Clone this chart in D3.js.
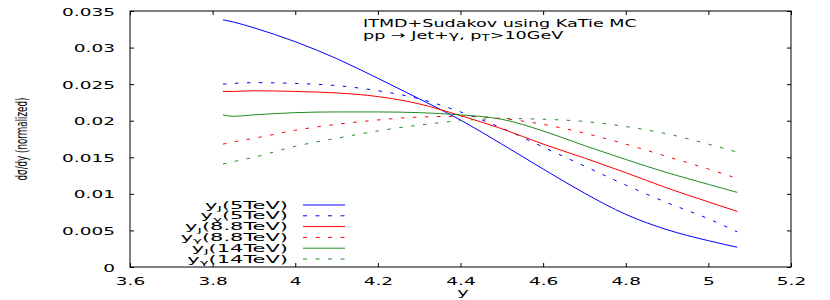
<!DOCTYPE html>
<html><head><meta charset="utf-8">
<script src="https://cdn.jsdelivr.net/npm/d3@7"></script>
<style>body{margin:0;background:#fff}svg{display:block}text{font-family:"DejaVu Sans",sans-serif;fill:#000}</style>
</head><body>
<svg id="c" width="830" height="300"></svg>
<script>
// ---- data ----
const xs   = [3.825, 3.85, 3.9, 4.0, 4.1, 4.2, 4.3, 4.4, 4.5, 4.6, 4.7, 4.8, 4.9, 5.0, 5.07];
const yJ5  = [.0338,.0335,.0327,.0308,.0285,.0258,.0230,.0201,.0168,.0134,.0101,.0072,.0051,.0036,.0027];
const yG5  = [.0250,.0251,.0252,.0251,.0248,.0241,.0230,.0212,.0190,.0164,.0138,.0112,.0088,.0066,.0048];
const yJ8  = [.0240,.0240,.0241,.0240,.0238,.0233,.0223,.0207,.0189,.0168,.0149,.0129,.0108,.0089,.0076];
const yG8  = [.0168,.0171,.0176,.0187,.0195,.0201,.0205,.0206,.0203,.0195,.0183,.0168,.0151,.0134,.0121];
const yJ14 = [.0208,.0206,.0208,.0211,.0212,.0212,.0211,.0208,.0202,.0186,.0166,.0147,.0129,.0113,.0102];
const yG14 = [.0141,.0144,.0150,.0165,.0176,.0186,.0194,.0200,.0203,.0202,.0199,.0192,.0182,.0168,.0157];
const seriesNames = ["J","γ","J","γ","J","γ"];
const seriesEnergy = ["(5TeV)","(5TeV)","(8.8TeV)","(8.8TeV)","(14TeV)","(14TeV)"];
const xTickVals = [3.6,3.8,4.0,4.2,4.4,4.6,4.8,5.0,5.2];
const xTickLabels = ["3.6","3.8","4","4.2","4.4","4.6","4.8","5","5.2"];
const yTickVals = [0,0.005,0.01,0.015,0.02,0.025,0.03,0.035];
const yTickLabels = ["0","0.005","0.01","0.015","0.02","0.025","0.03","0.035"];
const titleLines = ["ITMD+Sudakov using KaTie MC"];
const yLabel = "dσ/dy (normalized)";
const xLabel = "y";

const allSeries = [yJ5,yG5,yJ8,yG8,yJ14,yG14];
const colors = ["#0000ff","#0000ff","#ff0000","#ff0000","#228b22","#228b22"];
const dashed = [false,true,false,true,false,true];

const svg = d3.select("#c");
const L=130,R=791,T=11,B=267;
const x = d3.scaleLinear().domain([3.6,5.2]).range([L,R]);
const y = d3.scaleLinear().domain([0,0.035]).range([B,T]);

// axes (inward ticks, mirrored)
const gx = svg.append("g").attr("transform",`translate(0,${B})`)
  .call(d3.axisBottom(x).tickValues(xTickVals).tickSize(-4).tickFormat((d,i)=>xTickLabels[i]));
svg.append("g").attr("transform",`translate(0,${T})`)
  .call(d3.axisTop(x).tickValues(xTickVals).tickSize(-4).tickFormat(""));
const gy = svg.append("g").attr("transform",`translate(${L},0)`)
  .call(d3.axisLeft(y).tickValues(yTickVals).tickSize(-4).tickFormat((d,i)=>yTickLabels[i]));
svg.append("g").attr("transform",`translate(${R},0)`)
  .call(d3.axisRight(y).tickValues(yTickVals).tickSize(-4).tickFormat(""));
svg.selectAll(".domain").remove();
svg.selectAll(".tick line").attr("stroke","#000");

const tickFS = 10;
gx.selectAll("text").attr("font-size",tickFS).attr("font-family","DejaVu Sans").attr("y",0).attr("dy",0);
gy.selectAll("text").attr("font-size",tickFS).attr("font-family","DejaVu Sans").attr("x",0).attr("dy",0);
let k = 1;
gy.selectAll("text").each(function(d,i){ if(yTickLabels[i]==="0.035"){ k = 53/this.getBBox().width; }});
gx.selectAll("text").attr("transform",`translate(0,18) scale(${k},1)`);
gy.selectAll("text").attr("transform",`translate(-15,4) scale(${k},1)`);

// frame
svg.append("rect").attr("x",L).attr("y",T).attr("width",R-L).attr("height",B-T)
  .attr("fill","none").attr("stroke","#000").attr("stroke-width",1);

// lines
const line = d3.line().x((d,i)=>x(xs[i])).y(d=>y(d)).curve(d3.curveMonotoneX);
allSeries.forEach((s,i)=>{
  svg.append("path").datum(s).attr("d",line).attr("fill","none")
    .attr("stroke",colors[i]).attr("stroke-width",1)
    .attr("stroke-dasharray",dashed[i]?"3.5,8.5":null);
});

// legend
const legRowY = [205,215.8,226.6,237.4,248.2,259];
let lk = null;
seriesNames.forEach((nm,i)=>{
  const t = svg.append("text").attr("text-anchor","end").attr("font-size",10.5);
  t.append("tspan").text("y");
  t.append("tspan").attr("font-size",7.5).attr("dy",2.5).text(nm);
  t.append("tspan").attr("dy",-2.5).text(seriesEnergy[i]);
  if(lk===null) lk = 83/t.node().getBBox().width;
  t.attr("transform",`translate(288,${legRowY[i]+3.5}) scale(${lk},1)`);
  svg.append("line").attr("x1",303).attr("x2",345).attr("y1",legRowY[i]).attr("y2",legRowY[i])
    .attr("stroke",colors[i]).attr("stroke-width",1).attr("stroke-dasharray",dashed[i]?"4,8.5":null);
});

// title
const t1 = svg.append("text").attr("font-size",10.5).text(titleLines[0]);
const tk = 274/t1.node().getBBox().width;
t1.attr("transform",`translate(363,27) scale(${tk},1)`);
const t2 = svg.append("text").attr("font-size",10.5).attr("transform",`translate(363,38.5) scale(${tk},1)`);
t2.append("tspan").text("pp → Jet+γ, p");
t2.append("tspan").attr("font-size",8).attr("dy",2.5).text("T");
t2.append("tspan").attr("dy",-2.5).text(">10GeV");

// axis labels
const yl = svg.append("text").attr("font-size",15).attr("text-anchor","middle").text(yLabel);
const yk = 83/yl.node().getBBox().width;
yl.attr("transform",`translate(27,139) rotate(-90) scale(${yk},1)`);
svg.append("text").attr("font-size",10.5).attr("text-anchor","middle")
  .attr("transform",`translate(463,296) scale(${k},1)`).text(xLabel);
</script>
</body></html>
